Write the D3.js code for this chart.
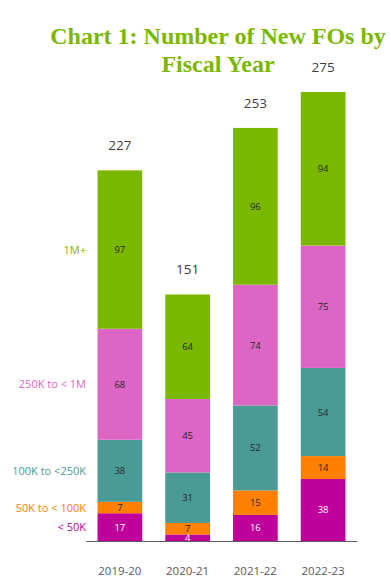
<!DOCTYPE html>
<html><head><meta charset="utf-8">
<script src="https://cdn.jsdelivr.net/npm/d3@7"></script>
<style>body{margin:0;background:#fff}svg{display:block}</style>
</head><body>
<svg id="c" width="391" height="586"></svg>
<script>
const years = ["2019-20","2020-21","2021-22","2022-23"];
const seriesNames = ["< 50K","50K to < 100K","100K to <250K","250K to < 1M","1M+"];
const under50K = [17,4,16,38];
const k50to100 = [7,7,15,14];
const k100to250 = [38,31,52,54];
const k250to1M = [68,45,74,75];
const m1plus = [97,64,96,94];
const totals = [227,151,253,275];
const colors = ["#C0009A","#FF7F00","#4A9A96","#DD66C4","#7AB800"];
const labelColors = ["#ffffff","#262626","#262626","#262626","#262626"];

const values = [under50K,k50to100,k100to250,k250to1M,m1plus];
const data = years.map((y,i)=>{const o={year:y}; seriesNames.forEach((s,j)=>o[s]=values[j][i]); return o;});
const stack = d3.stack().keys(seriesNames)(data);

const svg = d3.select("#c");
const x = d3.scaleBand().domain(years).range([86,357]).paddingInner(0.34).paddingOuter(0.17);
const y = d3.scaleLinear().domain([0,275]).range([541,92]);

// title
const title = svg.append("text").attr("x",218).attr("text-anchor","middle")
  .attr("font-family","'Liberation Serif','Times New Roman',serif").attr("font-weight","bold")
  .attr("font-size",24).attr("fill","#7AB800");
title.append("tspan").attr("x",218).attr("y",44).text("Chart 1: Number of New FOs by");
title.append("tspan").attr("x",218).attr("y",72).text("Fiscal Year");

const g = svg.append("g");
stack.forEach((layer,j)=>{
  g.selectAll(null).data(layer).enter().append("rect")
    .attr("x",d=>x(d.data.year)).attr("width",x.bandwidth())
    .attr("y",d=>y(d[1])).attr("height",d=>y(d[0])-y(d[1]))
    .attr("fill",colors[j]);
  g.selectAll(null).data(layer).enter().append("text")
    .attr("x",d=>x(d.data.year)+x.bandwidth()/2)
    .attr("y",d=>(y(d[0])+y(d[1]))/2+3.5)
    .attr("text-anchor","middle").attr("font-family","'Open Sans',sans-serif").attr("font-size",9.5)
    .attr("fill",labelColors[j]).text(d=>d[1]-d[0]);
  const d0 = layer[0];
  svg.append("text").attr("x",86).attr("y",(y(d0[0])+y(d0[1]))/2+4)
    .attr("text-anchor","end").attr("font-family","'Open Sans',sans-serif").attr("font-size",11)
    .attr("fill",colors[j]).text(seriesNames[j]);
});

// totals
svg.selectAll(null).data(years).enter().append("text")
  .attr("x",d=>x(d)+x.bandwidth()/2).attr("y",(d,i)=>y(totals[i])-20)
  .attr("text-anchor","middle").attr("font-family","'Open Sans',sans-serif").attr("font-size",13.5)
  .attr("fill","#404040").text((d,i)=>totals[i]);

// axis
const ax = svg.append("g").attr("transform","translate(0,541)").call(d3.axisBottom(x).tickSize(0).tickPadding(26));
ax.select(".domain").attr("stroke","#595959").attr("stroke-width",1);
ax.selectAll("text").attr("font-family","'Open Sans',sans-serif").attr("font-size",11.5).attr("fill","#595959");
</script>
</body></html>
